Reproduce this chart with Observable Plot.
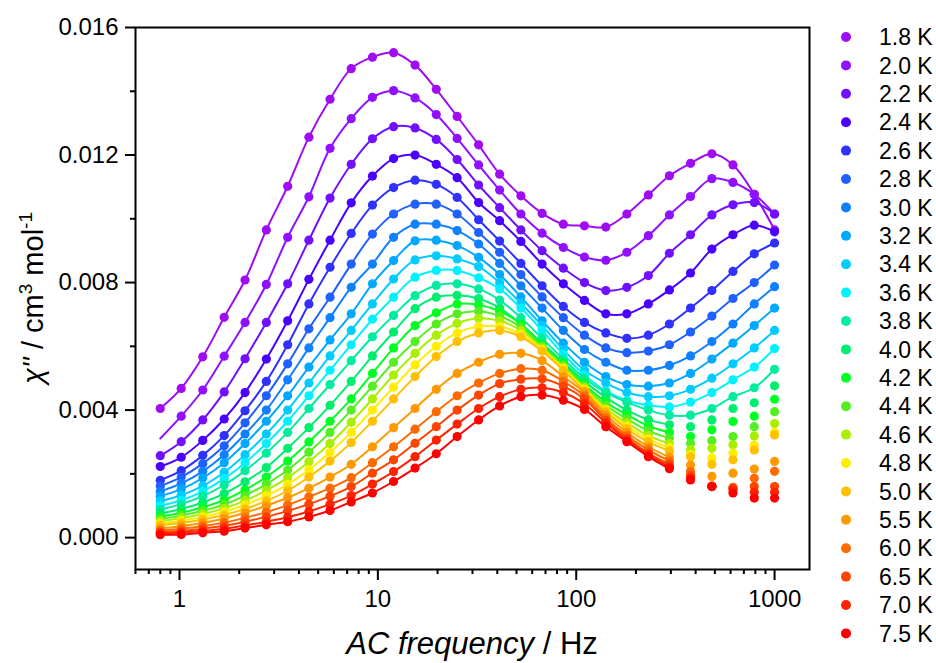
<!DOCTYPE html>
<html><head><meta charset="utf-8">
<script src="https://cdn.jsdelivr.net/npm/d3@7"></script>
<script src="https://cdn.jsdelivr.net/npm/@observablehq/plot@0.6"></script>
<style>
body{margin:0;background:#fff;}
#wrap{position:relative;width:936px;height:663px;font-family:"Liberation Sans",Arial,sans-serif;}
</style></head>
<body><div id="wrap"></div>
<script>
const temps = ["1.8 K","2.0 K","2.2 K","2.4 K","2.6 K","2.8 K","3.0 K","3.2 K","3.4 K","3.6 K","3.8 K","4.0 K","4.2 K","4.4 K","4.6 K","4.8 K","5.0 K","5.5 K","6.0 K","6.5 K","7.0 K","7.5 K"];
const colors = ["#a00cf2","#9010ff","#7010ff","#4a00ff","#3030ff","#2060ff","#1080ff","#00a8ff","#00ccff","#00f2ff","#00eca0","#00ee70","#00ff22","#55ee22","#aaee00","#ffee00","#ffc000","#ff9900","#ff6a00","#ff4400","#ff2200","#ff0000"];
// highest frequency reached by each fitted line (Hz)
const fitMaxHz = [1000,1000,1000,1000,1000,1000,1000,1000,1000,1000,1000,295,295,295,295,295,295,295,295,295,295,295];
const freqs = [0.8,1.02,1.31,1.68,2.14,2.74,3.51,4.49,5.74,7.34,9.39,12.0,15.4,19.7,25.1,32.2,41.1,52.6,67.3,86.1,110,141,180,231,295,377,483,617,790,1000];
const xMajor = [1,10,100,1000];
const xMinor = [0.6,0.7,0.8,0.9,2,3,4,5,6,7,8,9,20,30,40,50,60,70,80,90,200,300,400,500,600,700,800,900];
const yMajor = [0,0.004,0.008,0.012,0.016];
const yMinor = [0.002,0.006,0.010,0.014];
// chi'' in units of 1e-3 cm3 mol-1 (null = no measured point)
const s18 = [4.05,4.68,5.67,6.91,8.08,9.65,11.02,12.56,13.75,14.71,15.07,15.21,14.82,14.06,13.21,12.32,11.40,10.72,10.17,9.83,9.78,9.74,10.15,10.75,11.35,11.74,12.04,11.69,10.77,9.65];
const s20 = [null,3.81,4.63,5.69,6.75,7.94,9.42,10.69,12.21,13.14,13.81,14.02,13.79,13.27,12.52,11.69,10.90,10.15,9.55,9.10,8.80,8.70,8.95,9.47,10.12,10.70,11.26,11.14,10.77,10.15];
const s20LineStart = 3.11; // fitted line value at 0.8 Hz for 2.0 K (no point there)
const s22 = [2.57,3.01,3.69,4.57,5.61,6.75,7.96,9.33,10.65,11.71,12.51,12.89,12.85,12.49,11.86,11.06,10.35,9.65,9.00,8.45,8.00,7.75,7.85,8.22,8.92,9.50,10.12,10.44,10.51,10.15];
const s24 = [2.23,2.52,3.05,3.72,4.55,5.60,6.80,8.10,9.33,10.50,11.34,11.89,12.00,11.71,11.29,10.51,9.94,9.29,8.58,7.96,7.44,7.02,7.02,7.33,7.77,8.30,9.05,9.50,9.80,9.59];
const s26 = [1.80,2.10,2.58,3.20,3.98,4.90,6.05,7.33,8.48,9.54,10.43,10.98,11.21,11.08,10.67,9.97,9.30,8.60,7.90,7.25,6.75,6.42,6.25,6.35,6.70,7.20,7.75,8.35,8.90,9.24];
const s28 = [1.62,1.90,2.32,2.88,3.60,4.45,5.45,6.55,7.54,8.58,9.52,10.15,10.46,10.46,10.15,9.57,8.95,8.25,7.55,6.90,6.35,5.95,5.80,5.85,6.05,6.45,6.95,7.50,8.00,8.55];
const s30 = [1.45,1.70,2.08,2.60,3.25,4.00,4.95,5.95,6.90,7.85,8.58,9.42,9.83,9.83,9.63,9.21,8.60,7.90,7.20,6.50,5.90,5.50,5.25,5.25,5.40,5.70,6.15,6.70,7.33,7.87];
const s32 = [1.30,1.52,1.87,2.35,2.95,3.65,4.45,5.35,6.20,7.02,7.96,8.69,9.31,9.33,9.16,8.79,8.25,7.55,6.80,6.10,5.50,5.05,4.80,4.75,4.85,5.15,5.60,6.10,6.65,7.20];
const s34 = [1.15,1.33,1.62,2.05,2.60,3.25,4.00,4.85,5.70,6.50,7.33,8.11,8.71,8.84,8.74,8.50,8.00,7.35,6.65,5.90,5.25,4.85,4.55,4.42,4.45,4.65,5.00,5.45,5.95,6.50];
const s36 = [1.00,1.17,1.45,1.85,2.35,2.95,3.65,4.45,5.25,6.05,6.85,7.54,8.17,8.38,8.38,8.15,7.80,7.20,6.50,5.75,5.10,4.60,4.30,4.15,4.10,4.25,4.55,4.95,5.35,5.93];
const s38 = [0.88,1.05,1.30,1.65,2.10,2.65,3.30,4.05,4.80,5.55,6.30,6.97,7.59,7.91,7.96,7.80,7.45,6.90,6.25,5.60,5.00,4.55,4.25,4.00,3.84,3.84,4.05,4.42,4.70,5.28];
const s40 = [0.76,0.90,1.10,1.38,1.75,2.20,2.80,3.45,4.15,4.90,5.70,6.45,7.18,7.54,7.60,7.50,7.20,6.70,6.10,5.50,4.90,4.40,4.00,3.70,3.54,3.48,3.69,4.05,4.23,4.76];
const s42 = [0.66,0.78,0.95,1.18,1.50,1.90,2.40,3.00,3.65,4.35,5.15,5.95,6.65,7.05,7.33,7.30,7.10,6.70,6.05,5.45,4.80,4.25,3.85,3.50,3.30,3.17,3.38,3.64,3.81,4.34];
const s44 = [0.59,0.69,0.84,1.04,1.32,1.68,2.12,2.68,3.30,4.00,4.75,5.50,6.15,6.70,7.02,7.10,6.95,6.60,6.00,5.40,4.75,4.15,3.72,3.35,3.12,2.96,3.04,3.17,3.48,3.95];
const s46 = [0.52,0.61,0.74,0.92,1.16,1.48,1.88,2.38,2.95,3.62,4.35,5.10,5.78,6.35,6.72,6.88,6.80,6.50,5.95,5.35,4.70,4.05,3.60,3.20,2.95,2.75,2.80,2.91,3.19,3.58];
const s48 = [0.45,0.53,0.65,0.81,1.03,1.31,1.67,2.13,2.67,3.30,4.00,4.72,5.42,6.00,6.42,6.62,6.62,6.38,5.90,5.30,4.65,4.00,3.50,3.10,2.82,2.60,2.50,2.65,2.90,3.30];
const s50 = [0.39,0.46,0.57,0.71,0.90,1.15,1.47,1.90,2.40,2.98,3.65,4.35,5.05,5.68,6.15,6.42,6.50,6.30,5.85,5.25,4.60,3.95,3.42,3.00,2.72,2.54,2.30,2.44,2.75,3.22];
const s55 = [0.29,0.36,0.46,0.60,0.78,1.00,1.25,1.55,1.90,2.30,2.85,3.45,4.05,4.65,5.15,5.50,5.75,5.78,5.55,5.05,4.55,3.85,3.30,2.85,2.52,2.28,1.92,2.02,2.15,2.39];
const s60 = [0.22,0.28,0.36,0.47,0.62,0.80,1.02,1.28,1.55,1.88,2.35,2.85,3.40,3.95,4.45,4.85,5.15,5.30,5.25,4.90,4.45,3.75,3.20,2.75,2.40,2.07,1.62,1.58,1.86,2.08];
const s65 = [0.17,0.21,0.28,0.37,0.50,0.65,0.84,1.05,1.30,1.60,2.02,2.44,2.96,3.48,4.00,4.47,4.83,4.97,4.98,4.75,4.35,3.68,3.12,2.65,2.30,1.95,1.60,1.55,1.60,1.60];
const s70 = [0.13,0.16,0.21,0.28,0.38,0.50,0.64,0.82,1.05,1.32,1.68,2.07,2.54,3.06,3.56,4.05,4.42,4.65,4.70,4.55,4.20,3.60,3.06,2.60,2.22,1.88,1.60,1.50,1.42,1.42];
const s75 = [0.09,0.10,0.15,0.20,0.30,0.40,0.50,0.65,0.85,1.12,1.40,1.76,2.18,2.63,3.17,3.69,4.13,4.42,4.47,4.31,4.02,3.48,3.01,2.54,2.16,1.81,1.60,1.40,1.24,1.24];
const series = [s18,s20,s22,s24,s26,s28,s30,s32,s34,s36,s38,s40,s42,s44,s46,s48,s50,s55,s60,s65,s70,s75];

const FONT = '"Liberation Sans", Arial, Helvetica, sans-serif';
const marks = [];
series.forEach((vals, k) => {
  const rows = [];
  vals.forEach((v, i) => { if (v != null) rows.push({T: temps[k], f: freqs[i], chi: v / 1000}); });
  let fitRows = rows.filter(d => d.f <= fitMaxHz[k]);
  if (k === 1) fitRows = [{T: temps[1], f: freqs[0], chi: s20LineStart / 1000}, ...fitRows];
  marks.push(Plot.line(fitRows, {x: "f", y: "chi", stroke: "T", strokeWidth: 2, curve: "catmull-rom"}));
  marks.push(Plot.dot(rows, {x: "f", y: "chi", fill: "T", r: 4.6, stroke: "none"}));
});

const chart = Plot.plot({
  width: 936, height: 663,
  marginLeft: 135, marginRight: 127, marginTop: 27, marginBottom: 94,
  style: {fontFamily: FONT, background: "white", color: "black", overflow: "visible"},
  x: {type: "log", domain: [0.6, 1500], axis: null},
  y: {domain: [-0.001, 0.016], axis: null},
  color: {type: "ordinal", domain: temps, range: colors},
  marks: [
    ...marks,
    Plot.axisX({ticks: xMajor, tickSize: 11, tickPadding: 9, tickFormat: d => String(d), fontSize: 24, strokeWidth: 2, label: null}),
    Plot.axisX({ticks: xMinor, tickSize: 5, tickFormat: () => "", strokeWidth: 2, label: null}),
    Plot.axisY({ticks: yMajor, tickSize: 10, tickPadding: 7, tickFormat: d3.format(".3f"), fontSize: 24, strokeWidth: 2, label: null}),
    Plot.axisY({ticks: yMinor, tickSize: 5, tickFormat: () => "", strokeWidth: 2, label: null}),
    Plot.frame({stroke: "black", strokeWidth: 2})
  ]
});
document.getElementById("wrap").appendChild(chart);

const svg = d3.select(chart);
// x axis title
const xt = svg.append("text").attr("x", 472).attr("y", 654).attr("text-anchor", "middle")
  .attr("font-size", 31).attr("font-family", FONT).attr("fill", "black");
xt.append("tspan").attr("font-style", "italic").text("AC frequency");
xt.append("tspan").text(" / Hz");
// y axis title
const yt = svg.append("text").attr("transform", "translate(43,298) rotate(-90)").attr("text-anchor", "middle")
  .attr("font-size", 29).attr("font-family", FONT).attr("fill", "black");
yt.append("tspan").attr("font-style", "italic").text("\u03C7''");
yt.append("tspan").text(" / cm");
yt.append("tspan").attr("font-size", 19).attr("dy", -11).text("3");
yt.append("tspan").attr("dy", 11).text(" mol");
yt.append("tspan").attr("font-size", 19).attr("dy", -11).text("-1");

// legend
const lg = svg.append("g").attr("font-family", FONT).attr("font-size", 23).attr("text-anchor", "start");
temps.forEach((t, k) => {
  const cy = 37 + k * 28.4;
  lg.append("circle").attr("cx", 846).attr("cy", cy).attr("r", 5).attr("fill", colors[k]);
  lg.append("text").attr("x", 879).attr("y", cy).attr("dy", "0.36em").attr("text-anchor", "start").attr("fill", "black").text(t);
});
</script>
</body></html>
